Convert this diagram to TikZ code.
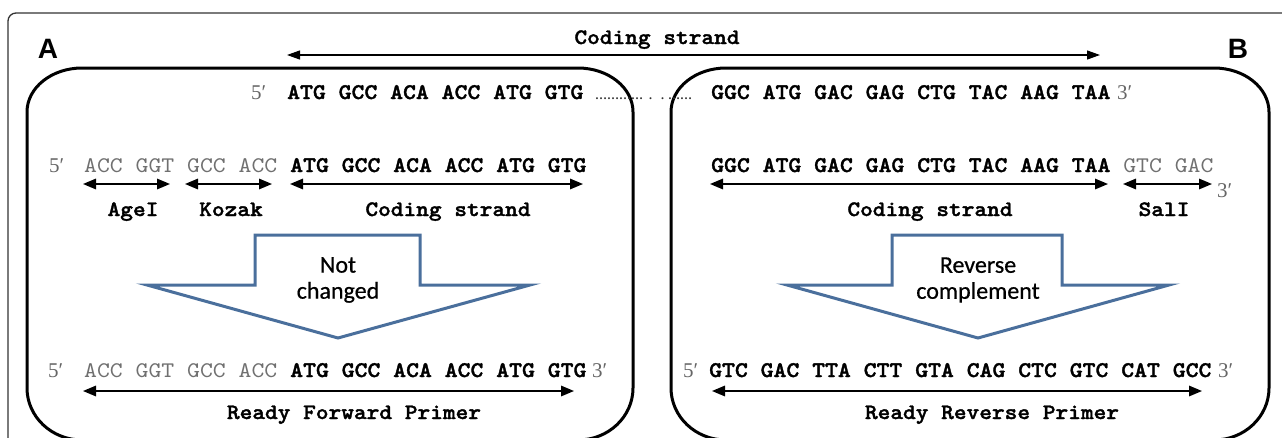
\documentclass[tikz,border=0pt]{standalone}
\usepackage{fontspec}
\setmainfont{Liberation Serif}
\newfontfamily\seqreg{lmmono10-regular.otf}[FakeStretch=1.1]
\newfontfamily\seqbold{lmmonolt10-bold.otf}[FakeStretch=1.1, FakeBold=1.6]
\newfontfamily\calib{Carlito}[FakeBold=0.6]
\newfontfamily\sansf{Liberation Sans}
\usetikzlibrary{arrows.meta}
\definecolor{arrowblue}{HTML}{4A6F9C}
\definecolor{seqgray}{HTML}{707070}
\definecolor{primegray}{HTML}{666666}
\definecolor{framegray}{HTML}{333333}
\definecolor{dotgray}{HTML}{333333}
\begin{document}
\begin{tikzpicture}[x=1pt,y=-1pt,
  seq/.style={font=\seqreg\fontsize{22.3}{24}\selectfont, inner sep=0, anchor=base west},
  prm/.style={font=\fontsize{21}{24}\selectfont, text=primegray, inner sep=0, anchor=base west},
  lab/.style={font=\seqbold\fontsize{22}{24}\selectfont, inner sep=0, anchor=base},
  letter/.style={font=\sansf\bfseries\fontsize{28}{32}\selectfont, inner sep=0, anchor=base},
  span/.style={{Triangle[length=13pt,width=10.5pt]}-{Triangle[length=13pt,width=10.5pt]}, line width=1.6pt},
  topspan/.style={{Triangle[length=13pt,width=9pt]}-{Triangle[length=13pt,width=9pt]}, line width=1.2pt},
  bigarrow/.style={draw=arrowblue, line width=3pt, fill=white, line join=miter},
  box/.style={draw=black, line width=3pt},
  callout/.style={font=\calib\fontsize{24}{26}\selectfont, align=center, inner sep=0}
]
\useasboundingbox (0,0) rectangle (1282,437);
\begin{scope}
\clip (0,0) rectangle (1282,437);
% outer frame
\draw[framegray, line width=1.3pt] (1290,13) -- (16,13) .. controls (11.6,13) and (8,16.6) .. (8,21) -- (8,445);
% boxes
\draw[box] (27,380) -- (27,112) .. controls (27,87.7) and (51.6,68) .. (82,68) -- (578,68) .. controls (608.4,68) and (633,87.7) .. (633,112) -- (633,388) .. controls (633,416.7) and (608.4,440) .. (578,440) -- (82,440) .. controls (51.6,440) and (27,416.7) .. (27,388) -- cycle;
\draw[box] (671,380) -- (671,112) .. controls (671,87.7) and (695.6,68) .. (726,68) -- (1214,68) .. controls (1244.4,68) and (1269,87.7) .. (1269,112) -- (1269,388) .. controls (1269,416.7) and (1244.4,440) .. (1214,440) -- (726,440) .. controls (695.6,440) and (671,416.7) .. (671,388) -- cycle;
\end{scope}

% panel letters and title
\node[letter] (A) at (48,58) {A};
\node[letter] (B) at (1238,58) {B};
\node[lab] (title) at (657,44) {Coding strand};
\coordinate (tl) at (287,55);
\coordinate (tr) at (1100,55);
\draw[topspan] (tl) -- (tr);

% row 1
\node[prm] (r1p5) at (251,99) {5′};
\node[seq] (r1a) at (287,99) {\seqbold ATG GCC ACA ACC ATG GTG};
\node[font=\bfseries\fontsize{12}{12}\selectfont, text=dotgray, anchor=base west, inner sep=0] (dots) at (595,99) {…………\hspace{6pt}.\hspace{9pt}.\hspace{4pt}……};
\node[seq] (r1b) at (711,99) {\seqbold GGC ATG GAC GAG CTG TAC AAG TAA};
\node[prm] (r1p3) at (1117,99) {3′};

% row 2 left
\node[prm] (r2p5) at (49,172) {5′};
\node[seq] (r2a) at (84,172) {{\color{seqgray}ACC GGT GCC ACC} {\seqbold ATG GCC ACA ACC ATG GTG}};
\coordinate (ag1) at (83,184); \coordinate (ag2) at (170,184);
\coordinate (kz1) at (185,184); \coordinate (kz2) at (272,184);
\coordinate (cs1) at (290,184); \coordinate (cs2) at (583,184);
\draw[span] (ag1) -- (ag2);
\draw[span] (kz1) -- (kz2);
\draw[span] (cs1) -- (cs2);
\node[lab] (lage) at (133,216) {AgeI};
\node[lab] (lkoz) at (231,216) {Kozak};
\node[lab] (lcsa) at (448,216) {Coding strand};

% row 2 right
\node[seq] (r2b) at (711,172) {{\seqbold GGC ATG GAC GAG CTG TAC AAG TAA} {\color{seqgray}GTC GAC}};
\node[prm] (r2p3) at (1217,197) {3′};
\coordinate (cr1) at (710,184); \coordinate (cr2) at (1108,184);
\coordinate (sl1) at (1123,184); \coordinate (sl2) at (1212,184);
\draw[span] (cr1) -- (cr2);
\draw[span] (sl1) -- (sl2);
\node[lab] (lcsb) at (930,216) {Coding strand};
\node[lab] (lsal) at (1164,216) {SalI};

% block arrows
\draw[bigarrow] (255,235) -- (420,235) -- (420,285) -- (530,285) -- (338,338) -- (147,285) -- (255,285) -- cycle;
\node[callout] (notch) at (338,280) {Not\\changed};
\draw[bigarrow] (892,235) -- (1062,235) -- (1062,285) -- (1169,285) -- (978,338) -- (787,285) -- (892,285) -- cycle;
\node[callout] (revc) at (978,280) {Reverse\\complement};

% row 3 left
\node[prm] (r3p5) at (48,377) {5′};
\node[seq] (r3a) at (84,377) {{\color{seqgray}ACC GGT GCC ACC} {\seqbold ATG GCC ACA ACC ATG GTG}};
\node[prm] (r3p3) at (592,377) {3′};
\coordinate (fw1) at (83,391); \coordinate (fw2) at (574,391);
\draw[span] (fw1) -- (fw2);
\node[lab] (lfw) at (354,419) {Ready Forward Primer};

% row 3 right
\node[prm] (r3p5b) at (683,377) {5′};
\node[seq] (r3b) at (709,377) {\seqbold GTC GAC TTA CTT GTA CAG CTC GTC CAT GCC};
\node[prm] (r3p3b) at (1218,377) {3′};
\coordinate (rv1) at (712,391); \coordinate (rv2) at (1202,391);
\draw[span] (rv1) -- (rv2);
\node[lab] (lrv) at (992,419) {Ready Reverse Primer};
\end{tikzpicture}
\end{document}
